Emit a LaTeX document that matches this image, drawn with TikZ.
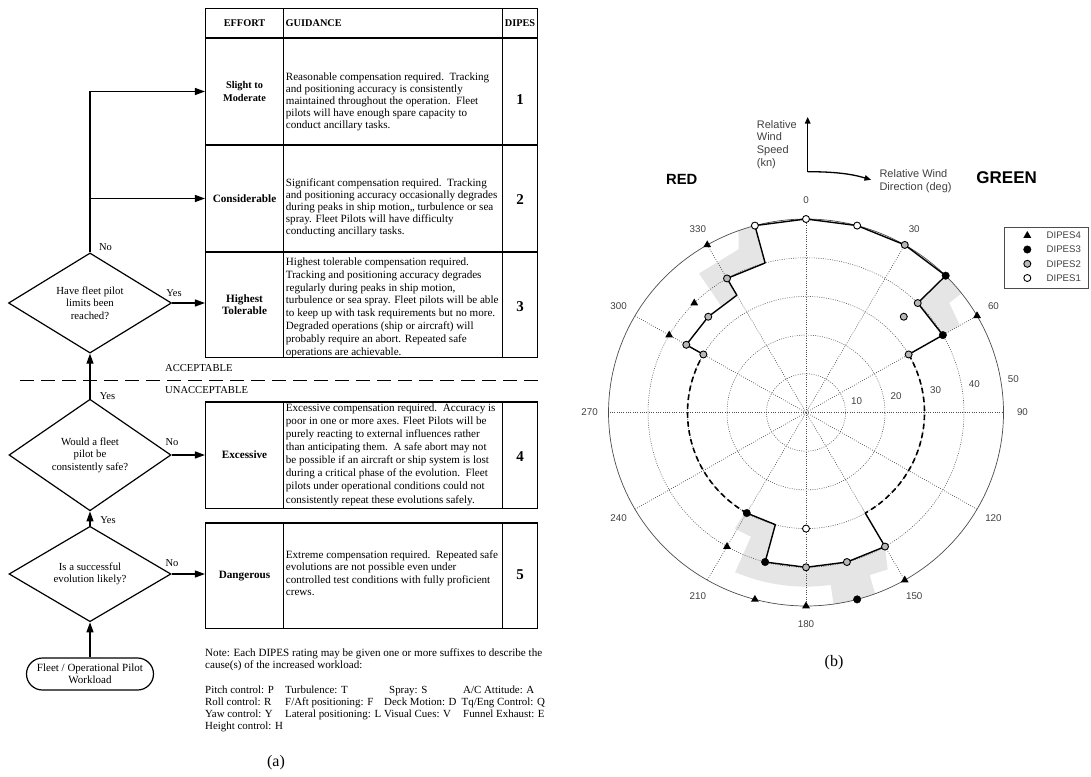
\documentclass[tikz,border=0pt]{standalone}
\usepackage{fontspec}
\setmainfont{Liberation Serif}
\setsansfont{Liberation Sans}
\usetikzlibrary{arrows.meta,shapes.geometric,shapes.misc}
\definecolor{shadegray}{gray}{0.9}
\definecolor{gridgray}{gray}{0.3}
\definecolor{markgray}{gray}{0.72}
\definecolor{labgray}{gray}{0.25}
\newcommand{\fsz}[2]{\fontsize{#1}{#2}\selectfont}
\newcommand{\gtext}[2]{\parbox[t]{218pt}{\raggedright\fontsize{11.1}{#1}\selectfont #2}}
\begin{document}
\begin{tikzpicture}[x=1pt,y=-1pt,
  flow/.style={line width=1.2pt,-{Triangle[length=10pt,width=7pt]}},
  cell/.style={draw,line width=1.5pt,inner sep=0pt,align=center,font=\bfseries\fsz{11.2}{12.5}},
  head/.style={inner sep=0pt,font=\bfseries\fsz{10.3}{11}},
  dec/.style={diamond,draw,line width=1.2pt,inner sep=0pt,align=center,font=\fsz{10.8}{12.6}},
  lab/.style={inner sep=0pt,font=\fsz{10.5}{11}},
  num/.style={inner sep=0pt,font=\bfseries\fsz{15}{15}},
  guid/.style={anchor=base west,inner sep=0pt},
  note/.style={anchor=base west,inner sep=0pt,font=\fsz{10.9}{12}},
  pgrid/.style={gridgray,line width=0.55pt,dash pattern=on 0.9pt off 1.4pt},
  dline/.style={line width=1.4pt,line join=round},
  ddash/.style={line width=1.6pt,dash pattern=on 5.5pt off 3.5pt},
  tri/.style={regular polygon,regular polygon sides=3,fill=black,inner sep=0pt,minimum size=9pt},
  bm/.style={circle,fill=black,draw=black,inner sep=0pt,minimum size=7.5pt},
  gm/.style={circle,fill=markgray,draw=black,line width=0.9pt,inner sep=0pt,minimum size=7pt},
  wm/.style={circle,fill=white,draw=black,line width=0.9pt,inner sep=0pt,minimum size=7pt},
  plab/.style={labgray,inner sep=0pt,font=\sffamily\fsz{9.8}{10}},
  slab/.style={labgray,inner sep=0pt,align=left,font=\sffamily\fsz{11}{12.8}},
]
\useasboundingbox (0,0) rectangle (1091,776);

% ---------------- table (a) ----------------
\node[cell,minimum width=77.6pt,minimum height=29.5pt] (h1) at (244.5,23.25) {};
\node[cell,minimum width=219pt,minimum height=29.5pt] (h2) at (392.8,23.25) {};
\node[cell,minimum width=35.4pt,minimum height=29.5pt] (h3) at (520,23.25) {};
\node[head] (ht1) at (244.5,23.5) {EFFORT};
\node[head,anchor=west] (ht2) at (285.5,23.5) {GUIDANCE};
\node[head] (ht3) at (520,23.5) {DIPES};

% row 1
\node[cell,minimum width=77.6pt,minimum height=107pt,font=\bfseries\fsz{10.3}{12.3}] (e1) at (244.5,91.5) {Slight to\\Moderate};
\node[cell,minimum width=219pt,minimum height=107pt] (g1) at (392.8,91.5) {};
\node[cell,minimum width=35.4pt,minimum height=107pt] (n1) at (520,91.5) {};
% row 2
\node[cell,minimum width=77.6pt,minimum height=107pt] (e2) at (244.5,198.5) {Considerable};
\node[cell,minimum width=219pt,minimum height=107pt] (g2) at (392.8,198.5) {};
\node[cell,minimum width=35.4pt,minimum height=107pt] (n2) at (520,198.5) {};
% row 3
\node[cell,minimum width=77.6pt,minimum height=105.5pt] (e3) at (244.5,304.75) {Highest\\Tolerable};
\node[cell,minimum width=219pt,minimum height=105.5pt] (g3) at (392.8,304.75) {};
\node[cell,minimum width=35.4pt,minimum height=105.5pt] (n3) at (520,304.75) {};
% row 4
\node[cell,minimum width=77.6pt,minimum height=106.3pt] (e4) at (244.5,455.15) {Excessive};
\node[cell,minimum width=219pt,minimum height=106.3pt] (g4) at (392.8,455.15) {};
\node[cell,minimum width=35.4pt,minimum height=106.3pt] (n4) at (520,455.15) {};
% row 5
\node[cell,minimum width=77.6pt,minimum height=105.5pt] (e5) at (244.5,575.75) {Dangerous};
\node[cell,minimum width=219pt,minimum height=105.5pt] (g5) at (392.8,575.75) {};
\node[cell,minimum width=35.4pt,minimum height=105.5pt] (n5) at (520,575.75) {};

\node[num] (k1) at (520,99.5) {1};
\node[num] (k2) at (520,200) {2};
\node[num] (k3) at (520,306.5) {3};
\node[num] (k4) at (520,456.7) {4};
\node[num] (k5) at (520,575) {5};

\node[guid] (t1) at (285.7,80) {\gtext{12.2}{Reasonable compensation required.\ \ Tracking\\and positioning accuracy is consistently\\maintained throughout the operation.\ \ Fleet\\pilots will have enough spare capacity to\\conduct ancillary tasks.}};
\node[guid] (t2) at (285.7,186.2) {\gtext{12}{Significant compensation required.\ \ Tracking\\and positioning accuracy occasionally degrades\\during peaks in ship motion,, turbulence or sea\\spray. Fleet Pilots will have difficulty\\conducting ancillary tasks.}};
\node[guid] (t3) at (285.7,265.5) {\gtext{12.8}{Highest tolerable compensation required.\\Tracking and positioning accuracy degrades\\regularly during peaks in ship motion,\\turbulence or sea spray. Fleet pilots will be able\\to keep up with task requirements but no more.\\Degraded operations (ship or aircraft) will\\probably require an abort. Repeated safe\\operations are achievable.}};
\node[guid] (t4) at (285.7,411.3) {\gtext{13.1}{Excessive compensation required.\ \ Accuracy is\\poor in one or more axes. Fleet Pilots will be\\purely reacting to external influences rather\\than anticipating them.\ \ A safe abort may not\\be possible if an aircraft or ship system is lost\\during a critical phase of the evolution.\ \ Fleet\\pilots under operational conditions could not\\consistently repeat these evolutions safely.}};
\node[guid] (t5) at (285.7,558.5) {\gtext{12.3}{Extreme compensation required.\ \ Repeated safe\\evolutions are not possible even under\\controlled test conditions with fully proficient\\crews.}};

% acceptable line
\coordinate (dl1) at (20,380);
\coordinate (dl2) at (540,380);
\draw[line width=0.8pt,dash pattern=on 14pt off 7pt] (dl1) -- (dl2);
\node[lab,anchor=west,font=\fsz{10.6}{11}] (acc) at (165,368.5) {ACCEPTABLE};
\node[lab,anchor=west,font=\fsz{10.6}{11}] (unacc) at (165,390.5) {UNACCEPTABLE};

% ---------------- flowchart ----------------
\node[dec,minimum width=163pt,minimum height=98pt] (d1) at (90,303) {Have fleet pilot\\limits been\\reached?};
\node[dec,minimum width=162pt,minimum height=97pt] (d2) at (90,455) {Would a fleet\\pilot be\\consistently safe?};
\node[dec,minimum width=162pt,minimum height=95pt] (d3) at (90,574) {Is a successful\\evolution likely?};
\node[draw,rounded rectangle,line width=1.2pt,minimum width=127pt,minimum height=32pt,inner sep=0pt,align=center,font=\fsz{11}{12}] (st) at (90,674) {Fleet / Operational Pilot\\Workload};

\draw[flow] (d1.north) |- (e1.west);
\draw[flow] (d1.north |- e2.west) -- (e2.west);
\draw[flow] (d1.east) -- (d1.east -| e3.west);
\draw[flow] (d2.north) -- (d1.south);
\draw[flow] (d2.east) -- (d2.east -| e4.west);
\draw[flow] (d3.north) -- (d2.south);
\draw[flow] (d3.east) -- (d3.east -| e5.west);
\draw[flow] (st.north) -- (d3.south);

\node[lab] (l1) at (105.5,247) {No};
\node[lab] (l2) at (174,293) {Yes};
\node[lab] (l3) at (107.5,396) {Yes};
\node[lab] (l4) at (172,442) {No};
\node[lab] (l5) at (108,520) {Yes};
\node[lab] (l6) at (172,563) {No};

% notes
\node[note,font=\fsz{11.1}{12}] (nt1) at (205,656.5) {Note: Each DIPES rating may be given one or more suffixes to describe the};
\node[note,font=\fsz{11.1}{12}] (nt2) at (205,668.5) {cause(s) of the increased workload:};
\node[note] (c11) at (205,693) {Pitch control: P};
\node[note] (c12) at (285,693) {Turbulence: T};
\node[note] (c13) at (389,693) {Spray: S};
\node[note] (c14) at (463,693) {A/C Attitude: A};
\node[note] (c21) at (205,705) {Roll control: R};
\node[note] (c22) at (285,705) {F/Aft positioning: F};
\node[note] (c23) at (384,705) {Deck Motion: D};
\node[note] (c24) at (461.5,705) {Tq/Eng Control: Q};
\node[note] (c31) at (205,717) {Yaw control: Y};
\node[note] (c32) at (285,717) {Lateral positioning: L};
\node[note] (c33) at (384,717) {Visual Cues: V};
\node[note] (c34) at (463,717) {Funnel Exhaust: E};
\node[note] (c41) at (205,729) {Height control: H};

\node[inner sep=0pt,font=\fsz{16}{18}] (capa) at (276,763) {(a)};

% ---------------- polar plot (b) ----------------
\begin{scope}[shift={(806pt,-412.5pt)},x=3.95pt,y=3.87pt]
  % shaded regions
  \fill[shadegray] ({90-345}:50) -- ({90-340}:50) -- ({90-338}:45.5) -- ({90-323}:45) -- ({90-322}:35) -- ({90-330}:35) -- ({90-330}:40) -- ({90-345}:40) -- cycle;
  \fill[shadegray] ({90-45}:50) -- ({90-52}:50) -- ({90-52}:46) -- ({90-60}:45) -- ({90-60}:40) -- ({90-45}:40) -- cycle;
  \fill[shadegray] ({90-150}:40) -- ({90-153}:45.5) -- ({90-159}:45) -- ({90-159.5}:50) -- plot[domain=159.5:172,samples=6] ({90-\x}:50) -- ({90-172}:45.5) -- plot[domain=172:203.5,samples=10] ({90-\x}:45) -- ({90-203.5}:35) -- ({90-211}:35) -- ({90-211}:30) -- ({90-195}:30) -- ({90-195}:40) -- ({90-180}:40) -- ({90-165}:40) -- cycle;

  % grid
  \foreach \b in {0,30,...,330} \draw[pgrid] (0,0) -- ({90-\b}:50);
  \foreach \r in {10,20,30,40} \draw[pgrid] plot[domain=0:360,samples=121] (\x:\r) -- cycle;
  \draw[gridgray,line width=0.7pt] plot[domain=0:360,samples=181] (\x:50) -- cycle;

  % angle labels
  \foreach \b in {0,30,...,330} \node[plab] (al\b) at ({90-\b}:54.8) {\b};
  \node[plab] (rl10) at (12.8,3.05) {10};
  \node[plab] (rl20) at (22.8,4.34) {20};
  \node[plab] (rl30) at (32.8,5.81) {30};
  \node[plab] (rl40) at (42.6,7.29) {40};
  \node[plab] (rl50) at (52.5,8.58) {50};

  % data points
  \coordinate (P1) at ({90-300}:30);
  \coordinate (P2) at ({90-300}:35);
  \coordinate (P3) at ({90-315}:35);
  \coordinate (P4) at ({90-330}:35);
  \coordinate (P5) at ({90-330}:40);
  \coordinate (P6) at ({90-345}:40);
  \coordinate (P7) at ({90-345}:50);
  \coordinate (P8) at ({90-0}:50);
  \coordinate (P9) at ({90-15}:50);
  \coordinate (P10) at ({90-30}:50);
  \coordinate (P11) at ({90-45}:50);
  \coordinate (P12) at ({90-45}:40);
  \coordinate (P13) at ({90-60}:40);
  \coordinate (P14) at ({90-60}:30);
  \coordinate (P15) at ({90-150}:30);
  \coordinate (P16) at ({90-150}:40);
  \coordinate (P17) at ({90-165}:40);
  \coordinate (P18) at ({90-180}:40);
  \coordinate (P19) at ({90-195}:40);
  \coordinate (P20) at ({90-195}:30);
  \coordinate (P21) at ({90-210}:30);

  \draw[dline] (P1) -- (P2) -- (P3) -- (P4) -- (P5) -- (P6) -- (P7) -- (P8) -- (P9) -- (P10) -- (P11) -- (P12) -- (P13) -- (P14);
  \draw[dline] (P15) -- (P16) -- (P17) -- (P18) -- (P19) -- (P20) -- (P21);
  \draw[ddash] plot[domain=60:150,samples=46] ({90-\x}:30);
  \draw[ddash] plot[domain=210:300,samples=46] ({90-\x}:30);

  % markers
  \node[gm] (m1) at (P1) {};
  \node[gm] (m2) at (P2) {};
  \node[gm] (m3) at (P3) {};
  \node[gm] (m5) at (P5) {};
  \node[wm] (m7) at (P7) {};
  \node[wm] (m8) at (P8) {};
  \node[wm] (m9) at (P9) {};
  \node[gm] (m10) at (P10) {};
  \node[bm] (m11) at (P11) {};
  \node[gm] (m12) at (P12) {};
  \node[bm] (m13) at (P13) {};
  \node[gm] (m14) at (P14) {};
  \node[gm] (m16) at (P16) {};
  \node[gm] (m17) at (P17) {};
  \node[gm] (m18) at (P18) {};
  \node[bm] (m19) at (P19) {};
  \node[bm] (m21) at (P21) {};
  \node[gm] (x1) at ({90-45}:35) {};
  \node[wm] (x2) at ({90-180}:30) {};
  \node[bm] (x3) at ({90-165}:50) {};
  \node[tri] (y1) at ({90-330}:50) {};
  \node[tri] (y2) at ({90-315}:40) {};
  \node[tri] (y3) at ({90-300}:40) {};
  \node[tri] (y4) at ({90-60}:50) {};
  \node[tri] (y5) at ({90-150}:50) {};
  \node[tri] (y6) at ({90-180}:50) {};
  \node[tri] (y7) at ({90-195}:50) {};
  \node[tri] (y8) at ({90-210}:40) {};
\end{scope}

\node[inner sep=0pt,font=\sffamily\bfseries\fsz{14.8}{16}] (red) at (681.7,179.3) {RED};
\node[inner sep=0pt,font=\sffamily\bfseries\fsz{17}{18}] (green) at (1006.7,177.3) {GREEN};

% wind indicator
\coordinate (wc) at (807.7,171.7);
\coordinate (wt) at (807.7,117);
\coordinate (we) at (871,179.8);
\draw[line width=1.3pt,-{Triangle[length=6.5pt,width=5.5pt]}] (wc) -- (wt);
\draw[line width=1.3pt,-{Triangle[length=6.5pt,width=5.5pt]}] (wc) .. controls (835,171.7) and (852,174) .. (we);
\node[slab,anchor=west] (wsp) at (756.7,144.5) {Relative\\Wind\\Speed\\(kn)};
\node[slab,anchor=west] (wdir) at (879.3,181.4) {Relative Wind\\Direction (deg)};

% legend
\draw[gridgray,line width=0.7pt] (1004.3,227.3) rectangle (1088.5,288.3);
\node[tri] (lg4) at (1027.3,235.5) {};
\node[bm] (lg3) at (1027.3,249.5) {};
\node[gm] (lg2) at (1027.3,263.8) {};
\node[wm] (lg1) at (1027.3,278) {};
\node[plab,anchor=west,font=\sffamily\fsz{9.6}{10}] (lt4) at (1046.5,235) {DIPES4};
\node[plab,anchor=west,font=\sffamily\fsz{9.6}{10}] (lt3) at (1046.5,249.5) {DIPES3};
\node[plab,anchor=west,font=\sffamily\fsz{9.6}{10}] (lt2) at (1046.5,263.8) {DIPES2};
\node[plab,anchor=west,font=\sffamily\fsz{9.6}{10}] (lt1) at (1046.5,278) {DIPES1};

\node[inner sep=0pt,font=\fsz{16}{18}] (capb) at (834,663) {(b)};
\end{tikzpicture}
\end{document}
